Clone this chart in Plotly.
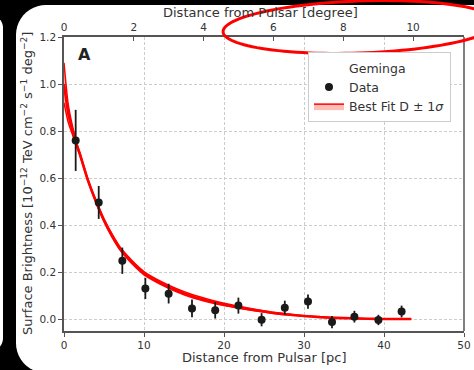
import numpy as np
import plotly.graph_objects as go

# ---------------- data ----------------
data_x = [1.46, 4.34, 7.29, 10.17, 13.08, 16.0, 18.9, 21.8, 24.7, 27.6, 30.5, 33.5, 36.3, 39.3, 42.2]
data_y = [0.76, 0.496, 0.248, 0.130, 0.108, 0.045, 0.037, 0.057, -0.003, 0.048, 0.074, -0.013, 0.010, -0.004, 0.032]
data_err = [0.13, 0.070, 0.056, 0.045, 0.042, 0.038, 0.035, 0.034, 0.028, 0.030, 0.030, 0.026, 0.025, 0.022, 0.025]

fit_x = [0, 0.5, 1, 1.5, 2, 3, 4, 5, 6, 7, 8, 9, 10, 12, 14, 16, 18, 20, 22, 24, 26, 28, 30, 32, 34, 36, 38, 40, 43.4]
fit_mid = [1.00, 0.88, 0.81, 0.75, 0.70, 0.59, 0.50, 0.42, 0.355, 0.30, 0.26, 0.225, 0.195, 0.155, 0.123, 0.097,
           0.078, 0.062, 0.049, 0.037, 0.027, 0.019, 0.013, 0.008, 0.005, 0.003, 0.001, 0.0, 0.0]
fit_hi = [1.09, 0.92, 0.83, 0.76, 0.705, 0.595, 0.505, 0.426, 0.362, 0.307, 0.267, 0.232, 0.202, 0.162, 0.130, 0.104,
          0.084, 0.067, 0.053, 0.040, 0.029, 0.021, 0.014, 0.009, 0.005, 0.003, 0.001, 0.0, 0.0]
fit_lo = [0.92, 0.84, 0.79, 0.74, 0.695, 0.585, 0.495, 0.414, 0.348, 0.293, 0.253, 0.218, 0.188, 0.149, 0.117, 0.091,
          0.072, 0.057, 0.045, 0.034, 0.025, 0.017, 0.012, 0.007, 0.004, 0.002, 0.001, 0.0, 0.0]

x_ticks = [0, 10, 20, 30, 40, 50]
y_ticks = [0.0, 0.2, 0.4, 0.6, 0.8, 1.0, 1.2]
deg_ticks = [0, 2, 4, 6, 8, 10]
pulsar_distance_pc = 250.0

# ---------------- layout geometry ----------------
W, H = 474, 370
L, R, T, B = 64, 10, 37, 39
PW, PH = W - L - R, H - T - B
FONT = "DejaVu Sans"
TXT = "#333333"
SPINE = "#555555"
TICK_SIZE = 10.5
TITLE_SIZE = 13


def px2paper(x, y):
    return (x - L) / PW, (H - B - y) / PH


def path_from_px(xs, ys, close=True):
    pts = [px2paper(x, y) for x, y in zip(xs, ys)]
    s = "M " + " L ".join(f"{a:.5f},{b:.5f}" for a, b in pts)
    return s + (" Z" if close else "")


def rounded_rect(x0, y0, x1, y1, r, n=12):
    xs, ys = [], []
    corners = [(x1 - r, y0 + r, -90, 0), (x1 - r, y1 - r, 0, 90),
               (x0 + r, y1 - r, 90, 180), (x0 + r, y0 + r, 180, 270)]
    for cx, cy, a0, a1 in corners:
        for a in np.linspace(np.radians(a0), np.radians(a1), n):
            xs.append(cx + r * np.cos(a))
            ys.append(cy + r * np.sin(a))
    return path_from_px(xs, ys)


def ellipse(cx, cy, rx, ry, rot_deg, n=120):
    t = np.linspace(0, 2 * np.pi, n)
    th = np.radians(rot_deg)
    ex, ey = rx * np.cos(t), ry * np.sin(t)
    xs = cx + ex * np.cos(th) - ey * np.sin(th)
    ys = cy + ex * np.sin(th) + ey * np.cos(th)
    return path_from_px(xs, ys)


fig = go.Figure()

# fit band
fig.add_trace(go.Scatter(x=fit_x, y=fit_lo, mode="lines", line=dict(color="red", width=1.5, shape="spline", smoothing=0.6),
                         showlegend=False, hoverinfo="skip"))
fig.add_trace(go.Scatter(x=fit_x, y=fit_hi, mode="lines", fill="tonexty", fillcolor="rgba(250,110,90,0.45)",
                         line=dict(color="red", width=1.5, shape="spline", smoothing=0.6),
                         name="Best Fit D \u00b1 1<i>\u03c3</i>", legendrank=3, hoverinfo="skip"))
fig.add_trace(go.Scatter(x=fit_x, y=fit_mid, mode="lines", line=dict(color="red", width=2.6, shape="spline", smoothing=0.6),
                         showlegend=False, hoverinfo="skip"))

# data
fig.add_trace(go.Scatter(x=data_x, y=data_y, mode="markers", name="Data", legendrank=2,
                         marker=dict(color="#1a1a1a", size=8),
                         error_y=dict(type="data", array=data_err, visible=True, color="#1a1a1a", thickness=1.8, width=0)))

# legend title-like entry
fig.add_trace(go.Scatter(x=[None], y=[None], mode="markers", name="Geminga", legendrank=1,
                         marker=dict(color="rgba(0,0,0,0)", size=1)))

# top axis (degrees)
deg_max = np.degrees(x_ticks[-1] / pulsar_distance_pc)
fig.add_trace(go.Scatter(x=[0, deg_max], y=[0, 0], xaxis="x2", mode="markers",
                         marker=dict(color="rgba(0,0,0,0)"), showlegend=False, hoverinfo="skip"))

axis_common = dict(showline=True, linecolor=SPINE, linewidth=1.5, mirror=False, zeroline=False, automargin=False,
                   tickfont=dict(family=FONT, size=TICK_SIZE, color=TXT), ticks="outside", ticklen=4,
                   tickcolor=SPINE, tickwidth=1)

fig.update_layout(
    template="none",
    width=W, height=H, autosize=False,
    margin=dict(l=L, r=R, t=T, b=B, pad=0),
    paper_bgcolor="black", plot_bgcolor="white",
    font=dict(family=FONT, color=TXT),
    xaxis=dict(range=[0, 50], tickvals=x_ticks, showgrid=True, gridcolor="#cccccc", griddash="3px,2px", gridwidth=1,
               **axis_common),
    yaxis=dict(range=[-0.051, 1.2], tickvals=y_ticks, tickformat=".1f", showgrid=True, gridcolor="#cccccc",
               griddash="3px,2px", gridwidth=1, **axis_common),
    xaxis2=dict(overlaying="x", side="top", range=[0, deg_max], tickvals=deg_ticks, showgrid=False, automargin=False,
                showline=True, linecolor=SPINE, linewidth=1.5, zeroline=False,
                tickfont=dict(family=FONT, size=TICK_SIZE, color=TXT), ticks="inside", ticklen=4, tickcolor=SPINE),
    legend=dict(x=px2paper(308, 0)[0], y=px2paper(0, 52)[1], xanchor="left", yanchor="top",
                bgcolor="white", bordercolor="#cccccc", borderwidth=1, traceorder="normal",
                font=dict(family=FONT, size=12.5, color=TXT), tracegroupgap=0),
    showlegend=True,
)

shapes = [
    dict(type="path", xref="paper", yref="paper", layer="below", path=rounded_rect(16, 5, 540, 373, 30),
         fillcolor="white", line=dict(width=0)),
    dict(type="path", xref="paper", yref="paper", layer="below", path=rounded_rect(-40, 14, 3, 352, 14),
         fillcolor="white", line=dict(width=0)),
    dict(type="line", xref="paper", yref="paper", x0=1, x1=1, y0=0, y1=1, line=dict(color=SPINE, width=1.5)),
    dict(type="path", xref="paper", yref="paper", layer="above", path=ellipse(360, 27, 137, 26, -2),
         line=dict(color="red", width=3)),
]
fig.update_layout(shapes=shapes)

ann = []


def add_text(px, py, text, size=TITLE_SIZE, color=TXT, angle=0):
    ax, ay = px2paper(px, py)
    ann.append(dict(x=ax, y=ay, xref="paper", yref="paper", text=text, showarrow=False, textangle=angle,
                    xanchor="center", yanchor="middle", font=dict(family=FONT, size=size, color=color)))


add_text(84, 55, "<b>A</b>", size=16, color="#222222")
add_text(264, 357, "Distance from Pulsar [pc]")
add_text(260, 12, "Distance from Pulsar [degree]")
add_text(27, 184, "Surface Brightness [10<sup>\u221212</sup> TeV cm<sup>\u22122</sup> s<sup>\u22121</sup> deg<sup>\u22122</sup>]")
ann[-1]["textangle"] = -90
fig.update_layout(annotations=ann)

fig.write_html("out.html")
